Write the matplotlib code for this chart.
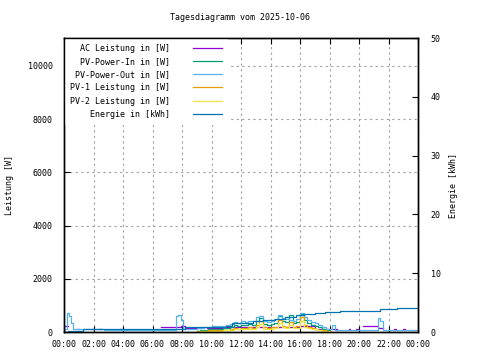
import numpy as np
import matplotlib
matplotlib.use("Agg")
import matplotlib.pyplot as plt

nan = np.nan

# Zeitachse in Stunden
t_day = [9.0, 9.25, 9.5, 9.75, 10.0, 10.25, 10.5, 10.75, 11.0, 11.25, 11.5, 11.75,
         12.0, 12.25, 12.5, 12.75, 13.0, 13.25, 13.5, 13.75, 14.0, 14.25, 14.5, 14.75,
         15.0, 15.25, 15.5, 15.75, 16.0, 16.25, 16.5, 16.75, 17.0, 17.25, 17.5, 17.75, 18.0]

pv_in = [30, 60, 80, 100, 120, 110, 120, 140, 160, 200, 260, 230,
         280, 250, 300, 280, 420, 520, 300, 260, 290, 350, 620, 400,
         360, 640, 330, 380, 680, 460, 340, 270, 220, 170, 110, 60, 0]
pv1 = [20, 40, 50, 60, 70, 60, 70, 80, 90, 110, 150, 130,
       160, 140, 170, 160, 250, 400, 170, 150, 170, 200, 450, 230,
       200, 380, 190, 220, 550, 270, 190, 150, 120, 90, 60, 30, 0]
pv2 = [10, 20, 30, 40, 50, 50, 50, 60, 70, 90, 110, 100,
       120, 110, 130, 120, 170, 300, 130, 110, 120, 150, 320, 170,
       160, 260, 140, 160, 400, 190, 150, 120, 100, 80, 50, 20, 0]

t_out = [0.0, 0.2, 0.35, 0.5, 0.6, 2.7, 7.6, 7.75, 7.9, 8.05, 9.0, 9.5, 10.0, 10.5,
         11.0, 11.25, 11.5, 11.75, 12.0, 12.25, 12.5, 12.75, 13.0, 13.25, 13.5, 13.75,
         14.0, 14.25, 14.5, 14.75, 15.0, 15.25, 15.5, 15.75, 16.0, 16.25, 16.5, 16.75,
         17.0, 17.25, 17.5, 17.75, 18.0, 18.2, 18.4, 21.3, 21.45, 21.6, 24.0]
pv_out = [100, 700, 620, 350, 130, 90, 600, 650, 450, 100, 150, 200, 220, 210,
          250, 300, 380, 350, 400, 370, 420, 400, 550, 600, 420, 380,
          400, 470, 650, 520, 480, 450, 430, 500, 720, 580, 450, 380,
          320, 260, 180, 120, 100, 260, 80, 520, 400, 80, 80]

t_ac = [0.0, 0.3, 0.9, 1.0, 1.9, 2.0, 2.4, 2.5, 3.8, 3.9, 6.6, 7.9, 8.2, 9.2, 9.7,
        11.0, 12.5, 14.0, 16.0, 17.0, 18.5, 19.3, 19.4, 19.8, 19.9, 20.3, 21.3,
        21.6, 22.4, 22.5, 23.0, 23.1, 24.0]
ac = [220, nan, 110, nan, 110, nan, 110, nan, 110, nan, 200, 230, 140, nan, 150,
      170, 180, 200, 220, 100, nan, 110, nan, 110, nan, 230, 160,
      nan, 110, nan, 110, nan, nan]

t_energy = [0.0, 0.3, 1.3, 4.5, 8.2, 9.7, 11.0, 11.4, 12.8, 13.5, 14.3, 15.0, 15.7,
            16.3, 17.0, 17.7, 18.7, 20.0, 21.4, 22.6, 24.0]
energy = [0.0, 0.2, 0.45, 0.55, 0.8, 0.9, 1.05, 1.6, 1.9, 2.05, 2.2, 2.55, 2.9,
          3.1, 3.25, 3.35, 3.55, 3.65, 3.85, 4.0, 4.0]

x_ticks = [0, 2, 4, 6, 8, 10, 12, 14, 16, 18, 20, 22, 24]
x_labels = ["00:00", "02:00", "04:00", "06:00", "08:00", "10:00", "12:00",
            "14:00", "16:00", "18:00", "20:00", "22:00", "00:00"]

plt.rcParams['font.family'] = ['DejaVu Sans Mono']
plt.rcParams['font.size'] = 6

fig = plt.figure(figsize=(4.8, 3.6), dpi=100)
ax = fig.add_axes([64/480, 28/360, 354/480, 294/360])
ax2 = ax.twinx()

lw = 0.9
l_ac, = ax.step(t_ac, ac, where='post', color='#9400d3', lw=lw, label='AC Leistung in [W]')
l_in, = ax.step(t_day, pv_in, where='post', color='#009e73', lw=lw, label='PV-Power-In in [W]')
l_out, = ax.step(t_out, pv_out, where='post', color='#56b4e9', lw=lw, label='PV-Power-Out in [W]')
l_1, = ax.step(t_day, pv1, where='post', color='#e69f00', lw=lw, label='PV-1 Leistung in [W]')
l_2, = ax.step(t_day, pv2, where='post', color='#f0e442', lw=lw, label='PV-2 Leistung in [W]')
l_e, = ax2.step(t_energy, energy, where='post', color='#0072b2', lw=lw, label='Energie in [kWh]')

ax.set_xlim(0, 24)
ax.set_ylim(0, 11050)
ax2.set_ylim(0, 50)
ax.set_xticks(x_ticks)
ax.set_xticklabels(x_labels)
ax.set_yticks([0, 2000, 4000, 6000, 8000, 10000])
ax2.set_yticks([0, 10, 20, 30, 40, 50])

ax.tick_params(axis='both', direction='in', length=4, width=0.8, pad=8)
ax.tick_params(axis='x', top=True, pad=6)
ax2.tick_params(axis='y', direction='in', length=4, width=0.8, pad=9)
ax.grid(True, color='#a0a0a0', linestyle=(0, (2, 3)), linewidth=0.8)

for a in (ax, ax2):
    for s in a.spines.values():
        s.set_linewidth(1.0)
        s.set_zorder(10)

ax.set_ylabel('Leistung [W]', labelpad=10)
ax2.set_ylabel('Energie [kWh]', labelpad=6)
fig.text(0.5, 1 - 18/360, 'Tagesdiagramm vom 2025-10-06', ha='center', va='center')

leg = ax2.legend(handles=[l_ac, l_in, l_out, l_1, l_2, l_e], loc='upper left',
                 bbox_to_anchor=(0.003, 0.997),
                 markerfirst=False, frameon=True, fancybox=False, framealpha=1,
                 edgecolor='white', handlelength=3.4, handletextpad=2.8,
                 labelspacing=0.5, borderaxespad=0.0, borderpad=0.6)
leg.set_zorder(5)

fig.savefig('out.png', dpi=100)
